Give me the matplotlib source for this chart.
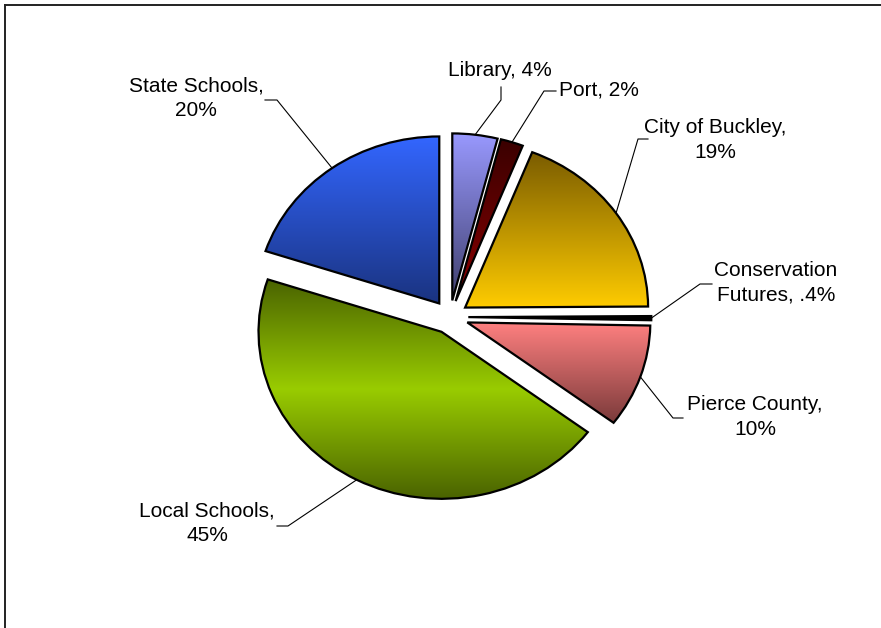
import numpy as np
import matplotlib.pyplot as plt
from matplotlib.colors import LinearSegmentedColormap
from matplotlib.lines import Line2D

plt.rcParams["font.family"] = ["Liberation Sans", "DejaVu Sans"]

# データ（時計回り、12時の位置から）
names = ["Library", "Port", "City of Buckley", "Conservation Futures",
         "Pierce County", "Local Schools", "State Schools"]
values = [4, 2, 19, 0.4, 10, 45, 20]
label_texts = ["Library, 4%", "Port, 2%", "City of Buckley,\n19%",
               "Conservation\nFutures, .4%", "Pierce County,\n10%",
               "Local Schools,\n45%", "State Schools,\n20%"]

# グラデーション（上→下）
gradients = [
    ["#9999ff", "#40406e"],
    ["#3a0000", "#8a0000"],
    ["#7a5c00", "#ffcc00"],
    ["#000000", "#000000"],
    ["#ff8080", "#7a3a3a"],
    ["#4a6300", "#99cc00", "#4a6300"],
    ["#3366ff", "#1a3380"],
]

# ラベル位置（ピクセル）と引き出し線の折れ点
label_pos = [(500, 70), (599, 90), (715, 140), (776, 283),
             (755, 417), (207, 523), (196, 98)]
leader_pts = [
    [(501, 87), (501, 100)],
    [(556, 91), (544, 91)],
    [(648, 139), (638, 139)],
    [(712, 284), (700, 284)],
    [(683, 418), (673, 418)],
    [(277, 526), (288, 526)],
    [(265, 100), (277, 100)],
]

W, H = 881, 628
fig = plt.figure(figsize=(W / 100, H / 100), dpi=100)
ax = fig.add_axes([175.5 / W, (H - 567.5) / H, 549 / W, 501 / H])

wedges, _ = ax.pie(values, startangle=90, counterclock=False,
                   explode=[0.1] * len(values), radius=1.0,
                   wedgeprops=dict(facecolor="none", edgecolor="black",
                                   linewidth=1.6, zorder=3))

for w, stops in zip(wedges, gradients):
    ext = w.get_path().get_extents()
    cmap = LinearSegmentedColormap.from_list("g", stops)
    grad = np.linspace(0, 1, 256)[:, None]
    im = ax.imshow(grad, cmap=cmap, aspect="auto", origin="upper",
                   extent=[ext.x0, ext.x1, ext.y0, ext.y1], zorder=2,
                   interpolation="bilinear")
    im.set_clip_path(w)

ax.set_aspect("auto")
ax.set_xlim(-1.5, 1.5)
ax.set_ylim(-1.5, 1.5)
ax.axis("off")


def px(x, y):
    return x / W, 1 - y / H


to_fig = ax.transData + fig.transFigure.inverted()

for w, txt, pos, pts in zip(wedges, label_texts, label_pos, leader_pts):
    mid = np.deg2rad((w.theta1 + w.theta2) / 2)
    anchor = (w.center[0] + w.r * np.cos(mid), w.center[1] + w.r * np.sin(mid))
    fx, fy = to_fig.transform(anchor)
    xs = [px(*p)[0] for p in pts] + [fx]
    ys = [px(*p)[1] for p in pts] + [fy]
    fig.add_artist(Line2D(xs, ys, color="black", linewidth=0.8))
    fig.text(*px(*pos), txt, ha="center", va="center", fontsize=15,
             linespacing=1.35, color="black")

# 枠線（上と左）
fig.add_artist(Line2D([px(4.5, 4.5)[0], 1], [px(4.5, 4.5)[1]] * 2,
                      color="#222222", linewidth=1.4))
fig.add_artist(Line2D([px(4.5, 4.5)[0]] * 2, [px(4.5, 4.5)[1], 0],
                      color="#222222", linewidth=1.4))

fig.savefig("out.png", dpi=100)
